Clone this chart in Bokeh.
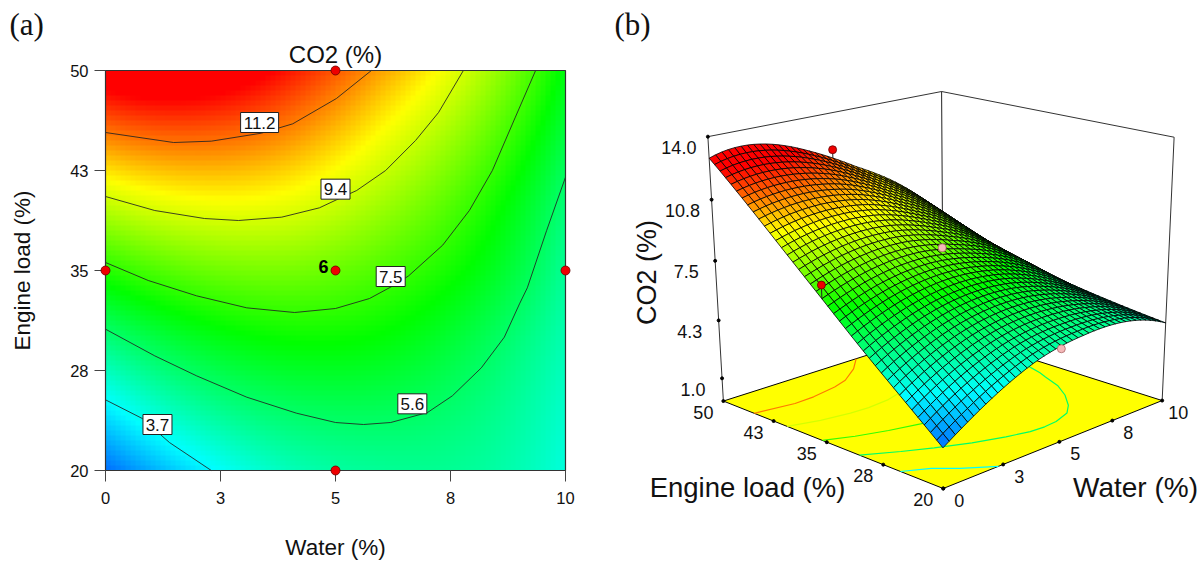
from bokeh.embed import file_html
from bokeh.resources import INLINE
from bokeh.plotting import figure
from bokeh.layouts import row
from bokeh.models import Range1d, FixedTicker
from bokeh.core.properties import value
import numpy as np

# ---------- data ----------
water_nodes = [0, 2, 4, 6, 8, 10]
load_nodes = [20, 25, 30, 35, 40, 45, 50]
co2_w0 = [1.8, 3.6, 5.4, 7.3, 9.2, 11.1, 12.9]
co2_w2 = [3.4, 5.0, 6.5, 8.1, 9.76, 11.4, 13.1]
co2_w4 = [4.55, 5.75, 7.0, 8.3, 9.65, 10.95, 12.2]
co2_w6 = [5.0, 5.87, 6.85, 7.8, 8.8, 9.8, 10.8]
co2_w8 = [4.95, 5.4, 6.0, 6.8, 7.5, 8.35, 9.2]
co2_w10 = [4.1, 4.35, 4.65, 5.0, 5.4, 6.05, 6.7]

c112_w = [0, 1.48, 2.3, 3.39, 4.07, 5.02, 5.78]
c112_l = [45.35, 44.6, 44.7, 45.3, 46.0, 47.9, 50]
c94_w = [0, 1.07, 2.15, 2.89, 3.83, 4.65, 5.02, 5.46, 6.09, 6.74, 7.24, 7.78]
c94_l = [40.55, 39.5, 38.9, 38.75, 39.0, 39.7, 40.3, 41.0, 42.5, 44.75, 46.85, 50]
c75_w = [0, .93, 1.98, 3.07, 4.11, 5.0, 5.74, 6.33, 6.59, 7.33, 7.91, 8.41, 8.91, 9.35]
c75_l = [35.6, 34.25, 33.1, 32.2, 31.85, 32.15, 32.9, 34.0, 34.6, 36.9, 39.5, 42.5, 46.5, 50]
c56_w = [0, 1.07, 1.98, 3.07, 4.15, 5, 5.61, 6.2, 7, 7.54, 8.17, 8.67, 9, 9.17, 9.59, 10]
c56_l = [30.6, 28.6, 27.1, 25.5, 24.3, 23.6, 23.45, 23.6, 24.35, 25.6, 27.7, 30.0, 32.5, 33.7, 38, 42]
c37_w = [0, .8, 1.39, 2.3]
c37_l = [25.3, 23.9, 22.1, 20]
contour_levels = [11.2, 9.4, 7.5, 5.6, 3.7]

label_text = ["11.2", "9.4", "7.5", "5.6", "3.7"]
label_w = [3.35, 5.0, 6.2, 6.67, 1.13]
label_l = [46.1, 41.1, 34.55, 25.0, 23.45]
label_box_w = [38, 29, 29, 29, 29]

design_w = [5, 0, 10, 5, 5]
design_l = [50, 35, 35, 20, 35]

x_ticks = [0, 2.5, 5, 7.5, 10]
x_tick_labels = ["0", "3", "5", "8", "10"]
y_ticks = [20, 27.5, 35, 42.5, 50]
y_tick_labels = ["20", "28", "35", "43", "50"]
z_ticks = [1.0, 4.25, 7.5, 10.75, 14.0]
z_tick_labels = ["1.0", "4.3", "7.5", "10.8", "14.0"]

# design points on the 3-D view (z)
red3d_w = [5, 0]
red3d_l = [50, 35]
red3d_z = [12.0, 8.0]
pink3d_w = [5, 5]
pink3d_l = [35, 20]
pink3d_z = [8.2, 4.7]

# colour stops: CO2 value -> colour
stop_z = [0.4, 3.7, 6.9, 9.9, 12.4]
stop_r = [0, 0, 0, 255, 255]
stop_g = [0, 255, 255, 255, 0]
stop_b = [255, 255, 0, 0, 0]

FONT = "Liberation Sans"
INK = "#111111"
table = np.array([co2_w0, co2_w2, co2_w4, co2_w6, co2_w8, co2_w10], float)  # [water, load]


def refine_axis(arr, nodes, new, axis):
    arr = np.moveaxis(arr, axis, 0)
    nodes = np.asarray(nodes, float)
    out = []
    for x in new:
        i = int(np.clip(np.searchsorted(nodes, x) - 2, 0, len(nodes) - 4))
        idx = range(i, i + 4)
        val = 0
        for j in idx:
            w = 1.0
            for k in idx:
                if k != j:
                    w *= (x - nodes[k]) / (nodes[j] - nodes[k])
            val = val + w * arr[j]
        out.append(val)
    return np.moveaxis(np.array(out), 0, axis)


def co2_grid(ws, ls):
    return refine_axis(refine_axis(table, water_nodes, ws, 0), load_nodes, ls, 1)


def rgb(z):
    return (np.interp(z, stop_z, stop_r), np.interp(z, stop_z, stop_g), np.interp(z, stop_z, stop_b))


# ---------- (a) contour plot: the frame fills the canvas, the axes sit at fixed locations ----------
PX_W, PX_L = 46.0, 0.075  # px per water unit, load units per px
x0, x1 = (0 - 105) / PX_W, (600 - 105) / PX_W
y1, y0 = 50 + (70 - 0) * PX_L, 50 - (560 - 70) * PX_L
p1 = figure(width=600, height=560, x_range=Range1d(x0, x1), y_range=Range1d(y0, y1),
            toolbar_location=None, output_backend="svg", min_border=0, outline_line_color=None)
p1.grid.visible = False

nx, ny = 92, 80
ws = (np.arange(nx) + .5) / nx * 10
ls = 20 + (np.arange(ny) + .5) / ny * 30
zz = co2_grid(ws, ls).T
r, g, b = rgb(zz)
img = np.dstack([r, g, b, np.full_like(r, 255)]).astype(np.uint8)
img32 = img.view(np.uint32).reshape(ny, nx)
p1.image_rgba(image=[img32], x=0, y=20, dw=10, dh=30)

all_w = [c112_w, c94_w, c75_w, c56_w, c37_w]
all_l = [c112_l, c94_l, c75_l, c56_l, c37_l]
p1.multi_line(all_w, all_l, line_color="#222222", line_width=1, line_alpha=.85)
p1.line([0, 10, 10, 0, 0], [20, 20, 50, 50, 20], line_color="#333333", line_width=1.2)
p1.rect(label_w, label_l, width=label_box_w, height=20, width_units="screen", height_units="screen",
        fill_color="white", line_color="#222222", line_width=1)
p1.text(label_w, label_l, text=label_text, text_font=value(FONT), text_font_size="17px",
        text_align="center", text_baseline="middle", text_color=INK)
p1.text([5], [35], text=["6"], x_offset=-12, y_offset=-4, text_font=value(FONT), text_font_size="18px",
        text_font_style="bold", text_align="center", text_baseline="middle", text_color="black")
p1.text([5], [50], text=["CO2 (%)"], y_offset=-3, text_align="center", text_baseline="bottom",
        text_font=value(FONT), text_font_size="24px", text_color=INK)
p1.text([(9 - 105) / PX_W], [50 - (24 - 70) * PX_L], text=["(a)"], text_align="left", text_baseline="middle",
        text_font=value("Liberation Serif"), text_font_size="31px", text_color=INK)

p1.xaxis[0].fixed_location = 20
p1.yaxis[0].fixed_location = 0
for ax, ticks, labs, name, bounds in ((p1.xaxis[0], x_ticks, x_tick_labels, "Water (%)", (0, 10)),
                                      (p1.yaxis[0], y_ticks, y_tick_labels, "Engine load (%)", (20, 50))):
    ax.ticker = FixedTicker(ticks=ticks)
    ax.major_label_overrides = {float(t): l for t, l in zip(ticks, labs)}
    ax.axis_label = name
    ax.bounds = bounds
    ax.axis_line_color = "#333333"
    ax.major_tick_in = 0
    ax.major_tick_out = 11
    ax.major_tick_line_color = "#444444"
    ax.minor_tick_line_color = None
    ax.major_label_text_font = FONT
    ax.major_label_text_font_size = "16.5px"
    ax.major_label_text_color = INK
    ax.axis_label_text_font = FONT
    ax.axis_label_text_font_style = "normal"
    ax.axis_label_text_font_size = "22.5px"
    ax.axis_label_text_color = INK
p1.xaxis[0].major_label_standoff = 10
p1.yaxis[0].major_label_standoff = 6
p1.yaxis[0].major_label_orientation = "horizontal"
p1.xaxis[0].axis_label_standoff = 28
p1.yaxis[0].axis_label_standoff = 32
p1.scatter(design_w, design_l, size=9, fill_color="#ee0000", line_color="#660000", line_width=.8, level="overlay")

# ---------- (b) response surface: camera fitted to the box corners seen in the picture ----------
Z_FLOOR = -0.3
corner_uvt = [(0, 0, 0), (1, 0, 0), (0, 1, 0), (1, 1, 0), (0, 1, 1), (1, 0, 1), (1, 1, 1)]
corner_px = [(943, 490), (1162, 398), (723, 398), (942, 333), (707, 137), (1173, 137), (942, 90)]
A = []
for (u, v, t), (sx, sy) in zip(corner_uvt, corner_px):
    A.append([u, v, t, 1, 0, 0, 0, 0, -sx * u, -sx * v, -sx * t, -sx])
    A.append([0, 0, 0, 0, u, v, t, 1, -sy * u, -sy * v, -sy * t, -sy])
cam = np.linalg.svd(np.array(A, float))[2][-1].reshape(3, 4)


def project(w, l, z):
    w, l, z = np.asarray(w, float), np.asarray(l, float), np.asarray(z, float)
    h = np.stack([w / 10, (l - 20) / 30, (z - Z_FLOOR) / (14 - Z_FLOOR), np.ones_like(w * l * z)])
    q = cam @ h.reshape(4, -1)
    return (q[0] / q[2]).reshape(h.shape[1:]), (q[1] / q[2]).reshape(h.shape[1:])


p2 = figure(width=600, height=560, x_range=Range1d(600, 1200), y_range=Range1d(560, 0),
            toolbar_location=None, output_backend="svg", x_axis_type=None, y_axis_type=None,
            min_border=0, outline_line_color=None)
p2.grid.visible = False

# floor
fx, fy = project([0, 10, 10, 0], [20, 20, 50, 50], [Z_FLOOR] * 4)
p2.patch(fx, fy, fill_color="#ffff00", line_color="black", line_width=1)
for cw, cl, lev in zip(all_w, all_l, contour_levels):
    sx, sy = project(cw, cl, [Z_FLOOR] * len(cw))
    cr, cg, cb = rgb(lev)
    p2.line(sx, sy, line_color="#%02x%02x%02x" % (int(cr), int(cg), int(cb)), line_width=1.2)

# box
bx, by = project([0, 0, 10, 10, 10], [50, 50, 50, 20, 20], [Z_FLOOR, 14, 14, 14, Z_FLOOR])
p2.line(bx, by, line_color="#333333", line_width=1)
vx, vy = project([10, 10], [50, 50], [Z_FLOOR, 14])
p2.line(vx, vy, line_color="#222222", line_width=1)

# surface, drawn from the back to the front
N = 40
gw = np.linspace(0, 10, N + 1)
gl = np.linspace(20, 50, N + 1)
gz = co2_grid(gw, gl)
W, L = np.meshgrid(gw, gl, indexing="ij")
SX, SY = project(W, L, gz)
xs, ys, cols = [], [], []
for i in range(N - 1, -1, -1):
    for j in range(N - 1, -1, -1):
        xs.append([SX[i, j], SX[i + 1, j], SX[i + 1, j + 1], SX[i, j + 1]])
        ys.append([SY[i, j], SY[i + 1, j], SY[i + 1, j + 1], SY[i, j + 1]])
        cr, cg, cb = rgb((gz[i, j] + gz[i + 1, j] + gz[i + 1, j + 1] + gz[i, j + 1]) / 4)
        cols.append("#%02x%02x%02x" % (int(cr), int(cg), int(cb)))
p2.patches(xs, ys, fill_color=cols, line_color="black", line_width=1, line_alpha=.8)

# design points with their stems down to the surface
for dw_, dl_, dz_, fc, lc in ((red3d_w, red3d_l, red3d_z, "#ee0000", "#660000"),
                              (pink3d_w, pink3d_l, pink3d_z, "#f4b8b8", "#aa6666")):
    sx, sy = project(dw_, dl_, dz_)
    sz = [float(co2_grid([a], [c])[0, 0]) for a, c in zip(dw_, dl_)]
    tx, ty = project(dw_, dl_, sz)
    p2.segment(sx, sy, tx, ty, line_color="#222222", line_width=1)
    p2.scatter(sx, sy, size=8, fill_color=fc, line_color=lc, line_width=.8)

# ticks and tick labels
sx, sy = project([0] * 5, [50] * 5, z_ticks)
p2.scatter(sx, sy, size=3, fill_color="black", line_color="black")
p2.text(sx - 29, sy + 11, text=z_tick_labels, text_font=value(FONT), text_font_size="18px",
        text_align="center", text_baseline="middle", text_color=INK)

sx, sy = project([0] * 5, y_ticks, [Z_FLOOR] * 5)
p2.scatter(sx, sy, size=3, fill_color="black", line_color="black")
p2.text(sx - 20, sy + 11, text=y_tick_labels, text_font=value(FONT), text_font_size="18px",
        text_align="center", text_baseline="middle", text_color=INK)

sx, sy = project(x_ticks, [20] * 5, [Z_FLOOR] * 5)
p2.scatter(sx, sy, size=3, fill_color="black", line_color="black")
p2.text(sx + 16, sy + 12, text=x_tick_labels, text_font=value(FONT), text_font_size="18px",
        text_align="center", text_baseline="middle", text_color=INK)

p2.text([747], [487], text=["Engine load (%)"], text_font=value(FONT), text_font_size="27.5px",
        text_align="center", text_baseline="middle", text_color=INK)
p2.text([1135], [487], text=["Water (%)"], text_font=value(FONT), text_font_size="28px",
        text_align="center", text_baseline="middle", text_color=INK)
p2.text([646], [272], text=["CO2 (%)"], angle=np.pi / 2, text_font=value(FONT), text_font_size="27px",
        text_align="center", text_baseline="middle", text_color=INK)
p2.text([614], [24], text=["(b)"], text_font=value("Liberation Serif"), text_font_size="31px",
        text_align="left", text_baseline="middle", text_color=INK)

open("out.html", "w").write(file_html(row(p1, p2, spacing=0), INLINE))
